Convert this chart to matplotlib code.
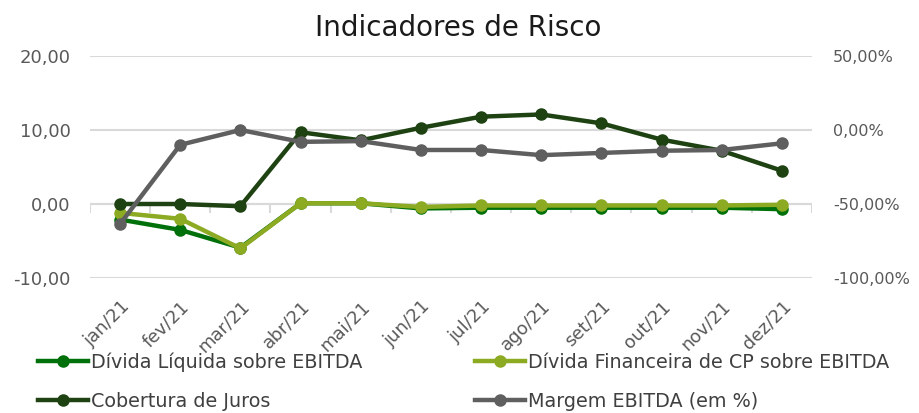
import numpy as np
import matplotlib
matplotlib.use("Agg")
import matplotlib.pyplot as plt
from matplotlib.ticker import FuncFormatter

# Data
meses = ['jan/21', 'fev/21', 'mar/21', 'abr/21', 'mai/21', 'jun/21',
         'jul/21', 'ago/21', 'set/21', 'out/21', 'nov/21', 'dez/21']
divida_liquida = [-2.1, -3.5, -5.9, 0.1, 0.1, -0.6, -0.5, -0.5, -0.5, -0.5, -0.5, -0.7]
divida_cp = [-1.2, -2.0, -6.0, 0.1, 0.1, -0.4, -0.2, -0.2, -0.2, -0.2, -0.2, -0.1]
cobertura_juros = [0.0, 0.0, -0.3, 9.7, 8.6, 10.3, 11.8, 12.1, 10.9, 8.7, 7.2, 4.5]
margem_ebitda = [-63.5, -10.0, 0.0, -8.0, -7.5, -13.5, -13.5, -17.0, -15.5, -14.0, -13.5, -9.0]

c_liq = '#00700A'
c_cp = '#8CAA22'
c_cob = '#1E4212'
c_marg = '#5F5F5F'
grid_c = '#D9D9D9'
text_c = '#595959'

plt.rcParams['font.family'] = ['DejaVu Sans']

fig = plt.figure(figsize=(9.19, 4.13), dpi=100)
ax = fig.add_axes([90/919, 1-278/413, (812-90)/919, (278-56)/413])
ax2 = ax.twinx()

x = np.arange(len(meses))
lw = 3.2
ms = 8

l1, = ax.plot(x, divida_liquida, color=c_liq, lw=lw, marker='o', ms=ms, label='Dívida Líquida sobre EBITDA', zorder=3)
l2, = ax.plot(x, divida_cp, color=c_cp, lw=lw, marker='o', ms=ms, label='Dívida Financeira de CP sobre EBITDA', zorder=4)
l3, = ax.plot(x, cobertura_juros, color=c_cob, lw=lw, marker='o', ms=ms, label='Cobertura de Juros', zorder=5)
l4, = ax2.plot(x, margem_ebitda, color=c_marg, lw=lw, marker='o', ms=ms, label='Margem EBITDA (em %)', zorder=3)

ax.set_xlim(-0.5, len(meses) - 0.5)
ax.set_ylim(-10, 20)
ax.set_yticks([-10, 0, 10, 20])
ax.yaxis.set_major_formatter(FuncFormatter(lambda v, p: f'{v:.2f}'.replace('.', ',')))
ax2.set_ylim(-100, 50)
ax2.set_yticks([-100, -50, 0, 50])
ax2.yaxis.set_major_formatter(FuncFormatter(lambda v, p: f'{v:.2f}%'.replace('.', ',')))

for a in (ax, ax2):
    for s in a.spines.values():
        s.set_visible(False)

ax.grid(axis='y', color=grid_c, lw=1.5, zorder=0)
ax.set_axisbelow(True)
# category axis at zero with boundary ticks
ax.axhline(0, color=grid_c, lw=1.5, zorder=1)
ax.vlines(np.arange(len(meses) + 1) - 0.5, -1.2, 0, color=grid_c, lw=1.5, zorder=1)

ax.set_xticks(x)
ax.set_xticklabels(meses, rotation=45, ha='right', rotation_mode='anchor')
ax.tick_params(axis='x', length=0, pad=14, labelsize=13, labelcolor=text_c)
ax.tick_params(axis='y', length=0, pad=14, labelsize=13, labelcolor=text_c)
ax2.tick_params(axis='y', length=0, pad=15, labelsize=11.5, labelcolor=text_c)

fig.text(458/919, 1-28/413, 'Indicadores de Risco', ha='center', va='center', fontsize=20, color='#1a1a1a')

fig.legend(handles=[l1, l3, l2, l4], ncol=2, loc='upper left',
           bbox_to_anchor=(38/919, 1-352/413), frameon=False,
           fontsize=13.8, labelcolor='#404040', handlelength=2.6, handletextpad=0.15,
           columnspacing=5.9, labelspacing=1.05, borderpad=0, borderaxespad=0)

fig.savefig('out.png', dpi=100)
